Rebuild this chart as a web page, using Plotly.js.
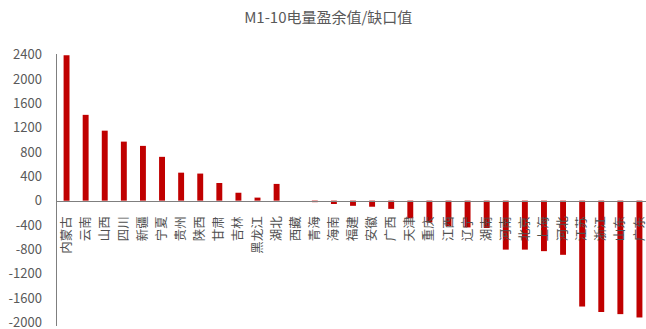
<!DOCTYPE html>
<html>
<head>
<meta charset="utf-8">
<script src="https://cdn.plot.ly/plotly-3.0.1.min.js"></script>
<style>
  html, body { margin: 0; padding: 0; overflow: hidden; background: #fff; }
  #chart { width: 650px; height: 329px; }
</style>
</head>
<body>
<div id="chart"></div>
<script>
// Provinces, ordered from largest surplus to largest shortfall
const provinces = ['内蒙古','云南','山西','四川','新疆','宁夏','贵州','陕西','甘肃','吉林','黑龙江','湖北','西藏',
  '青海','海南','福建','安徽','广西','天津','重庆','江西','辽宁','湖南','河南','北京','上海','河北','江苏','浙江','山东','广东'];

// Jan–Oct electricity surplus (+) / shortfall (−)
const balance = [2390, 1410, 1150, 970, 900, 720, 460, 445, 290, 130, 50, 275, 0,
  -25, -55, -85, -100, -135, -290, -360, -420, -440, -450, -805, -805, -830, -890, -1740, -1830, -1865, -1920];

const yTicks = [2400, 2000, 1600, 1200, 800, 400, 0, -400, -800, -1200, -1600, -2000];

const yMin = -2060, yMax = 2410;
const zeroPos = (0 - yMin) / (yMax - yMin);

const textColor = '#595959';
const font = 'Noto Sans CJK SC, Noto Sans, sans-serif';

Plotly.newPlot('chart', [{
  type: 'bar',
  x: provinces,
  y: balance,
  width: 0.31,
  marker: { color: '#C00000', line: { width: 0 } },
  hoverinfo: 'x+y'
}], {
  width: 650,
  height: 329,
  margin: { l: 57, r: 1, t: 54.4, b: 2.6 },
  paper_bgcolor: '#fff',
  plot_bgcolor: '#fff',
  showlegend: false,
  title: {
    text: 'M1-10电量盈余值/缺口值',
    font: { family: font, size: 15, color: textColor },
    x: 0.505, xanchor: 'center', y: 0.945, yanchor: 'middle'
  },
  xaxis: {
    type: 'category',
    anchor: 'free',
    position: zeroPos,
    showline: true,
    linecolor: '#7f7f7f',
    linewidth: 1.5,
    showgrid: false,
    zeroline: false,
    ticks: '',
    tickangle: -90,
    ticklabelstandoff: 9,
    tickfont: { family: font, size: 12.5, color: '#505050' },
    range: [-0.5, 30.5]
  },
  yaxis: {
    range: [yMin, yMax],
    tickvals: yTicks,
    ticktext: yTicks.map(String),
    showline: true,
    linecolor: '#7f7f7f',
    linewidth: 1.5,
    showgrid: false,
    zeroline: false,
    ticks: '',
    ticklabelstandoff: 11,
    ticklabeloverflow: 'allow',
    tickfont: { family: font, size: 13, color: textColor }
  },
  bargap: 0.69
}, { displayModeBar: false, staticPlot: true });
</script>
</body>
</html>
